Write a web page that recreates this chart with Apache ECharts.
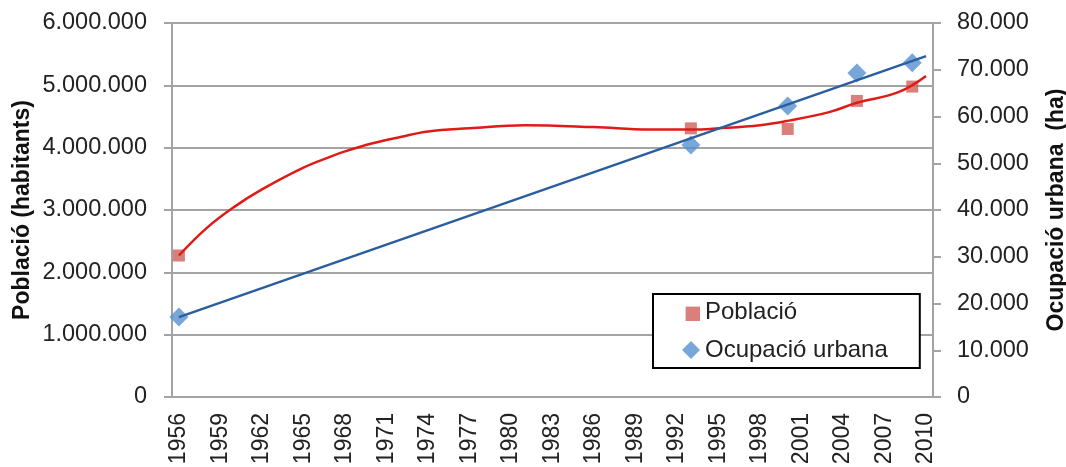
<!DOCTYPE html>
<html>
<head>
<meta charset="utf-8">
<title>Població i ocupació urbana</title>
<script src="https://cdn.jsdelivr.net/npm/echarts/dist/echarts.min.js"></script>
<style>
  html, body { margin: 0; padding: 0; background: #fff; }
  #main { width: 1066px; height: 467px; }
</style>
</head>
<body>
<div id="main"></div>
<script>
// anys de l'eix X
var years = ['1956', '1957', '1958', '1959', '1960', '1961', '1962', '1963', '1964', '1965',
  '1966', '1967', '1968', '1969', '1970', '1971', '1972', '1973', '1974', '1975',
  '1976', '1977', '1978', '1979', '1980', '1981', '1982', '1983', '1984', '1985',
  '1986', '1987', '1988', '1989', '1990', '1991', '1992', '1993', '1994', '1995',
  '1996', '1997', '1998', '1999', '2000', '2001', '2002', '2003', '2004', '2005',
  '2006', '2007', '2008', '2009', '2010'];

// punts mesurats
var pointYears = ['1956', '1993', '2000', '2005', '2009'];
var poblacio = [2270000, 4310000, 4300000, 4750000, 4980000];
var ocupacio = [17100, 53900, 62250, 69300, 71500];

// línies de tendència (llegides del gràfic)
var poblacioTrendYears = ['1956', '1958', '1960', '1962', '1965', '1967', '1968', '1970', '1972', '1974',
  '1977', '1981', '1986', '1990', '1993', '1995', '1998', '2000', '2003', '2005', '2008', '2010'];
var poblacioTrend = [2270000, 2710000, 3050000, 3330000, 3680000, 3860000, 3940000, 4070000, 4170000, 4260000,
  4310000, 4360000, 4330000, 4290000, 4290000, 4310000, 4360000, 4430000, 4570000, 4720000, 4890000, 5150000];
var ocupacioTrendYears = ['1956', '2010'];
var ocupacioTrend = [17100, 72900];

var gridColor = '#a3a3a3';
var font = 'Arial, "Liberation Sans", sans-serif';

function fmt(v) {
  return String(v).replace(/\B(?=(\d{3})+(?!\d))/g, '.');
}
function pairs(xs, ys) {
  return xs.map(function (x, i) { return [x, ys[i]]; });
}

var chart = echarts.init(document.getElementById('main'), null, { renderer: 'canvas' });

var option = {
  backgroundColor: '#ffffff',
  animation: false,
  textStyle: { fontFamily: font },
  grid: { left: 172, right: 133, top: 23, bottom: 70, outerBoundsMode: 'none' },
  legend: {
    left: 653,
    top: 294,
    orient: 'vertical',
    selectedMode: false,
    padding: [6, 32, 6, 29],
    itemGap: 14,
    itemWidth: 18,
    itemHeight: 18,
    borderColor: '#000',
    borderWidth: 2,
    backgroundColor: '#fff',
    textStyle: { fontSize: 24, color: '#222', fontFamily: font },
    data: [
      { name: 'Població', icon: 'path://M0,0M3,3L15,3L15,15L3,15Z' },
      { name: 'Ocupació urbana', icon: 'diamond' }
    ]
  },
  xAxis: {
    type: 'category',
    data: years,
    boundaryGap: true,
    axisLine: { lineStyle: { color: gridColor, width: 2 } },
    axisTick: { interval: 0, length: 6, lineStyle: { color: gridColor, width: 1.5 } },
    axisLabel: { interval: 2, rotate: 90, margin: 16, fontSize: 23, color: '#222', fontFamily: font },
    splitLine: { show: false }
  },
  yAxis: [{
    type: 'value',
    min: 0,
    max: 6000000,
    interval: 1000000,
    name: 'Població (habitants)',
    nameLocation: 'middle',
    nameRotate: 90,
    nameGap: 138,
    nameMoveOverlap: false,
    nameTextStyle: { fontSize: 23, fontWeight: 'bold', color: '#111', fontFamily: font },
    axisLine: { show: true, lineStyle: { color: gridColor, width: 2 } },
    axisTick: { show: true, length: 8, lineStyle: { color: gridColor, width: 2 } },
    axisLabel: { margin: 25, fontSize: 23.5, color: '#222', fontFamily: font, formatter: fmt },
    splitLine: { lineStyle: { color: gridColor, width: 2 } }
  }, {
    type: 'value',
    position: 'right',
    min: 0,
    max: 80000,
    interval: 10000,
    name: 'Ocupació urbana  (ha)',
    nameLocation: 'middle',
    nameRotate: 90,
    nameGap: 112,
    nameMoveOverlap: false,
    nameTextStyle: { fontSize: 23, fontWeight: 'bold', color: '#111', fontFamily: font },
    axisLine: { show: true, lineStyle: { color: gridColor, width: 2 } },
    axisTick: { show: true, length: 8, lineStyle: { color: gridColor, width: 2 } },
    axisLabel: { margin: 24, fontSize: 23.5, color: '#222', fontFamily: font, formatter: fmt },
    splitLine: { show: false }
  }],
  series: [{
    name: 'Població',
    type: 'scatter',
    yAxisIndex: 0,
    symbol: 'rect',
    symbolSize: 12,
    itemStyle: { color: '#d0605c' },
    data: pairs(pointYears, poblacio),
    z: 2
  }, {
    name: 'Ocupació urbana',
    type: 'scatter',
    yAxisIndex: 1,
    symbol: 'diamond',
    symbolSize: 19,
    itemStyle: { color: '#5690d0' },
    data: pairs(pointYears, ocupacio),
    z: 2
  }, {
    name: 'tendència població',
    type: 'line',
    yAxisIndex: 0,
    smooth: 0.4,
    showSymbol: false,
    lineStyle: { color: '#e01b16', width: 2.5 },
    data: pairs(poblacioTrendYears, poblacioTrend),
    z: 3
  }, {
    name: 'tendència ocupació',
    type: 'line',
    yAxisIndex: 1,
    showSymbol: false,
    lineStyle: { color: '#2a5e9e', width: 2.5 },
    data: pairs(ocupacioTrendYears, ocupacioTrend),
    z: 3
  }]
};

chart.setOption(option);
</script>
</body>
</html>
